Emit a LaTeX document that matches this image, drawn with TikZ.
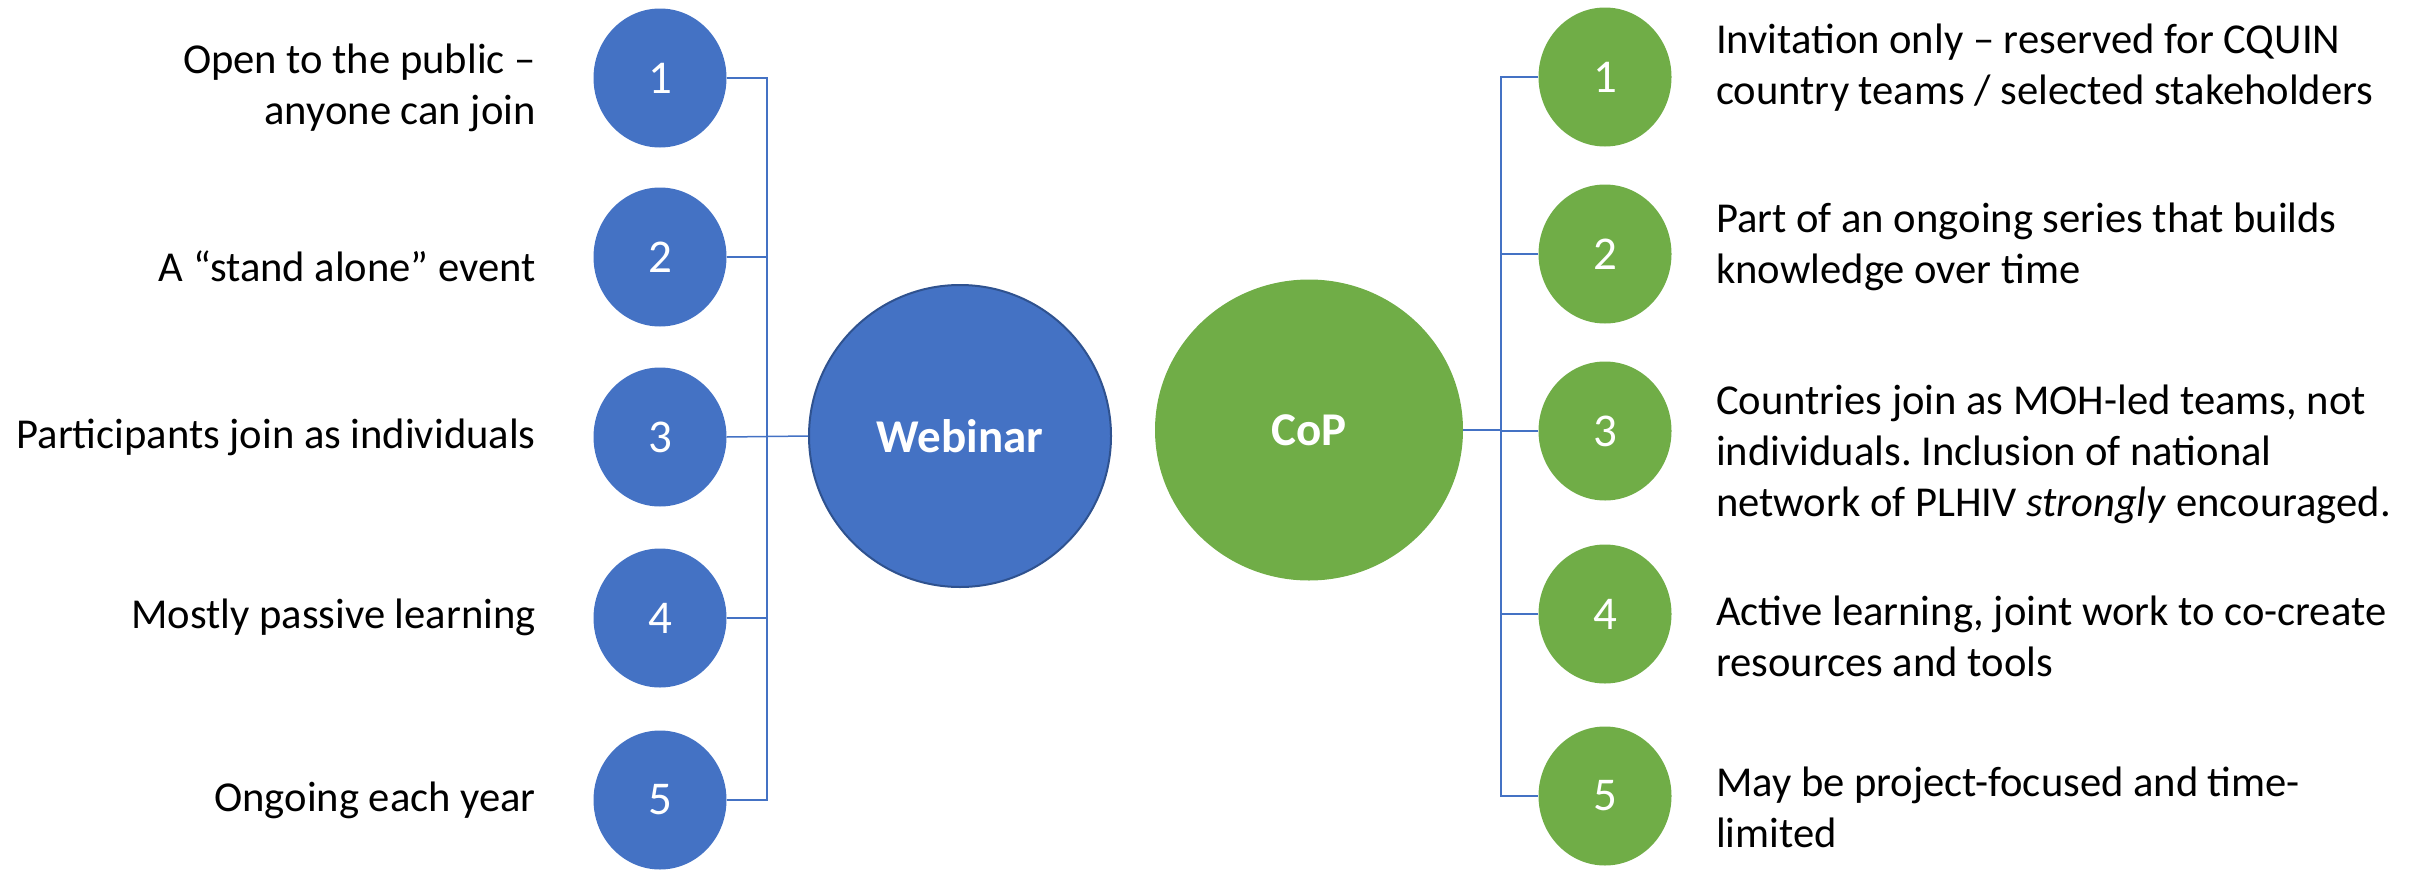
\documentclass[tikz,border=0pt]{standalone}
\usepackage{fontspec}
\setmainfont{Carlito}
\usetikzlibrary{shapes.geometric}
\definecolor{cblue}{HTML}{4472C4}
\definecolor{cgreen}{HTML}{70AD47}
\definecolor{cdark}{HTML}{2F528F}
\frenchspacing
\begin{document}
\begin{tikzpicture}[x=1pt,y=-1pt,
  num/.style={ellipse, minimum width=133pt, minimum height=139pt, inner sep=0pt, text=white, font=\fontsize{47}{56}\selectfont},
  lnum/.style={num, fill=cblue},
  rnum/.style={num, fill=cgreen},
  big/.style={inner sep=0pt, text=white, font=\bfseries\fontsize{47}{56}\selectfont},
  conn/.style={draw=cblue, line width=1.5pt},
  ltxt/.style={anchor=east, align=right, inner sep=0pt, font=\fontsize{42.6}{51}\selectfont},
  rtxt/.style={anchor=west, align=left, inner sep=0pt, font=\fontsize{42.6}{51}\selectfont}]
\useasboundingbox (0,0) rectangle (2420,870);

% central nodes
\node[big, circle, minimum size=302pt, fill=cblue, draw=cdark, line width=2pt] (web) at (960,436) {Webinar};
\node[big, ellipse, minimum width=308pt, minimum height=301pt, fill=cgreen] (cop) at (1309,430) {CoP};

% left numbered circles
\node[lnum] (l1) at (660,78) {1};
\node[lnum] (l2) at (660,257) {2};
\node[lnum] (l3) at (660,437) {3};
\node[lnum] (l4) at (660,618) {4};
\node[lnum] (l5) at (660,800) {5};

% right numbered circles
\node[rnum] (r1) at (1605,77) {1};
\node[rnum] (r2) at (1605,254) {2};
\node[rnum] (r3) at (1605,431) {3};
\node[rnum] (r4) at (1605,614) {4};
\node[rnum] (r5) at (1605,796) {5};

% bus coordinates
\coordinate (lb) at (767,437);
\coordinate (rb) at (1501,430);

% left connectors
\draw[conn] (l1.east) -- (l1.east -| lb) -- (l5.east -| lb) -- (l5.east);
\draw[conn] (l2.east) -- (l2.east -| lb);
\draw[conn] (l4.east) -- (l4.east -| lb);
\draw[conn] (l3.east) -- (web.west);

% right connectors
\draw[conn] (r1.west) -- (r1.west -| rb) -- (r5.west -| rb) -- (r5.west);
\draw[conn] (r2.west) -- (r2.west -| rb);
\draw[conn] (r4.west) -- (r4.west -| rb);
\draw[conn] (r3.west) -- (r3.west -| rb);
\draw[conn] (cop.east) -- (rb);

% left texts
\node[ltxt] (t1) at (536,88) {Open to the public –\\anyone can join};
\node[ltxt] (t2) at (536,266) {A “stand alone” event};
\node[ltxt] (t3) at (536,437) {Participants join as individuals};
\node[ltxt] (t4) at (536,617) {Mostly passive learning};
\node[ltxt] (t5) at (536,800) {Ongoing each year};

% right texts
\node[rtxt] (s1) at (1716,68) {Invitation only – reserved for CQUIN\\country teams / selected stakeholders};
\node[rtxt] (s2) at (1716,247) {Part of an ongoing series that builds\\knowledge over time};
\node[rtxt] (s3) at (1716,454) {Countries join as MOH-led teams, not\\individuals. Inclusion of national\\network of PLHIV \textit{strongly} encouraged.};
\node[rtxt] (s4) at (1716,636) {Active learning, joint work to co-create\\resources and tools};
\node[rtxt] (s5) at (1716,807) {May be project-focused and time-\\limited};
\end{tikzpicture}
\end{document}
